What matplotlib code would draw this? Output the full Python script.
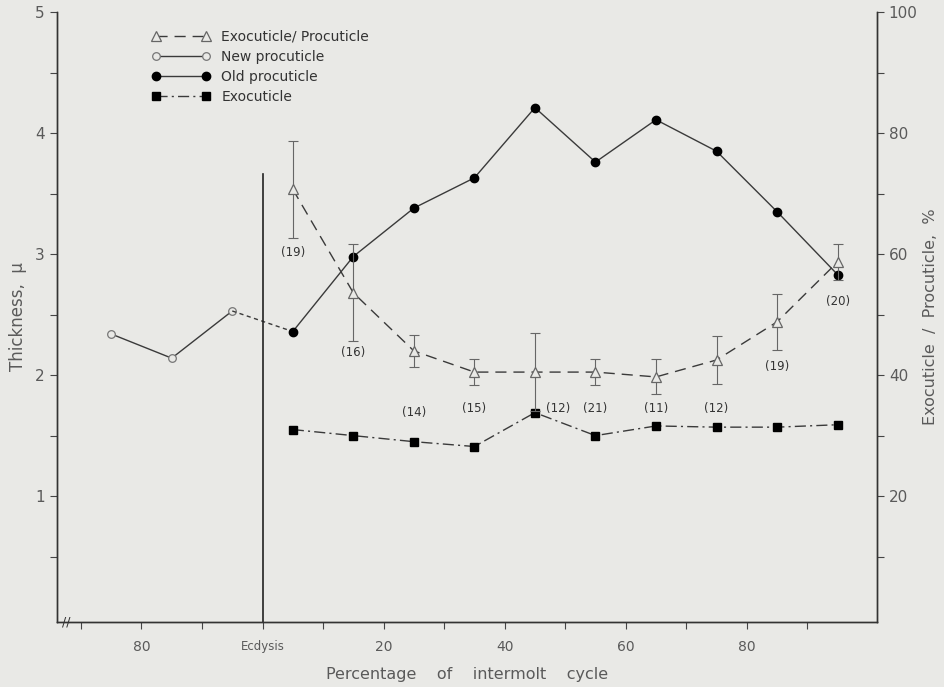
import matplotlib
matplotlib.use('Agg')
import matplotlib.pyplot as plt
import numpy as np

# x positions: previous cycle 75-95 (before ecdysis at 100), then 5-95 % of intermolt as 105-195
pre_x = [75, 85, 95]
post_x = [105, 115, 125, 135, 145, 155, 165, 175, 185, 195]

new_procuticle = [2.34, 2.14, 2.53]
old_procuticle = [2.36, 2.98, 3.38, 3.63, 4.21, 3.76, 4.11, 3.85, 3.35, 2.83]
exocuticle = [1.55, 1.50, 1.45, 1.41, 1.69, 1.50, 1.58, 1.57, 1.57, 1.59]
exo_pro_pct = [70.7, 53.6, 44.0, 40.5, 40.5, 40.5, 39.7, 42.5, 48.8, 58.7]
exo_pro_err = [8.0, 8.0, 2.6, 2.1, 6.4, 2.1, 2.9, 4.0, 4.6, 3.0]
n_counts = ['(19)', '(16)', '(14)', '(15)', '(12)', '(21)', '(11)', '(12)', '(19)', '(20)']

xtick_pos = [80, 100, 120, 140, 160, 180]
xtick_labels = ['80', 'Ecdysis', '20', '40', '60', '80']

bg = '#e9e9e6'
ink = '#3a3a3a'
txt = '#5a5a5a'

plt.rcParams['font.family'] = ['DejaVu Sans']
fig = plt.figure(figsize=(9.45, 6.87), dpi=100, facecolor=bg)
ax = fig.add_axes([0.060, 0.0946, 0.868, 0.8879])
ax.set_facecolor(bg)
ax2 = ax.twinx()

l_new, = ax.plot(pre_x, new_procuticle, '-', color=ink, lw=1.0, marker='o', ms=5.5,
                 mfc=bg, mec='#777777', mew=0.9, label='New procuticle')
ax.plot([pre_x[-1], post_x[0]], [new_procuticle[-1], old_procuticle[0]], color=ink, lw=1.0,
        dashes=(3, 2.5))
l_old, = ax.plot(post_x, old_procuticle, '-', color=ink, lw=1.0, marker='o', ms=6,
                 mfc='black', mec='black', label='Old procuticle')
l_exo, = ax.plot(post_x, exocuticle, color=ink, lw=1.0, dashes=(8, 3, 1.5, 3), marker='s',
                 ms=5.5, mfc='black', mec='black', label='Exocuticle')

ax2.errorbar(post_x, exo_pro_pct, yerr=exo_pro_err, fmt='none', ecolor='#666666',
             elinewidth=0.8, capsize=3.5, capthick=0.8)
l_ratio, = ax2.plot(post_x, exo_pro_pct, color=ink, lw=1.0, dashes=(8, 5), marker='^', ms=6.5,
                    mfc=bg, mec='#666666', mew=0.9, label='Exocuticle/ Procuticle')

# ecdysis line
ax.plot([100, 100], [-0.04, 3.66], color='#222222', lw=1.2)

# sample sizes
label_y = [60.2, 43.8, 33.9, 34.5, 34.5, 34.5, 34.5, 34.5, 41.5, 52.1]
label_dx = [0, 0, 0, 0, 3.8, 0, 0, 0, 0, 0]
for x, y, dx, s in zip(post_x, label_y, label_dx, n_counts):
    ax2.text(x + dx, y, s, ha='center', va='center', fontsize=8.5, color='#333333')

ax.set_xlim(66, 201.5)
ax.set_ylim(-0.04, 5)
ax2.set_ylim(-0.8, 100)

ax.set_xticks(xtick_pos)
ax.set_xticklabels(xtick_labels)
ax.set_xticks(np.arange(70, 200, 10), minor=True)
ax.set_yticks([1, 2, 3, 4, 5])
ax.set_yticks(np.arange(0.5, 5, 1.0), minor=True)
ax2.set_yticks([20, 40, 60, 80, 100])
ax2.set_yticks([10, 30, 50, 70, 90], minor=True)

for a in (ax, ax2):
    for sp in a.spines.values():
        sp.set_color('#333333')
        sp.set_linewidth(1.0)
    a.spines['top'].set_visible(False)
    a.tick_params(which='both', direction='out', color='#444444', labelcolor=txt,
                  labelsize=11, width=0.8)
    a.tick_params(which='major', length=5)
    a.tick_params(which='minor', length=5)
ax.tick_params(axis='x', labelsize=10, pad=8)
ax.get_xticklabels()[1].set_fontsize(8.5)

ax.set_ylabel('Thickness,  μ', fontsize=12, color=txt, labelpad=6)
ax2.set_ylabel('Exocuticle  /  Procuticle,  %', fontsize=11.5, color=txt, labelpad=4)
ax.set_xlabel('Percentage    of    intermolt    cycle', fontsize=11.5, color=txt, labelpad=9)

# axis break mark
ax.text(67.5, -0.04, '//', fontsize=9, color='#333333', ha='center', va='center',
        rotation=0)

leg = ax.legend(handles=[l_ratio, l_new, l_old, l_exo], loc='upper left',
                bbox_to_anchor=(0.155, 0.965), bbox_transform=fig.transFigure,
                frameon=False, handlelength=4.2, labelspacing=0.45, fontsize=10,
                handletextpad=0.8, borderaxespad=0, numpoints=2)
for t in leg.get_texts():
    t.set_color('#333333')

fig.savefig('out.png', dpi=100, facecolor=bg)
